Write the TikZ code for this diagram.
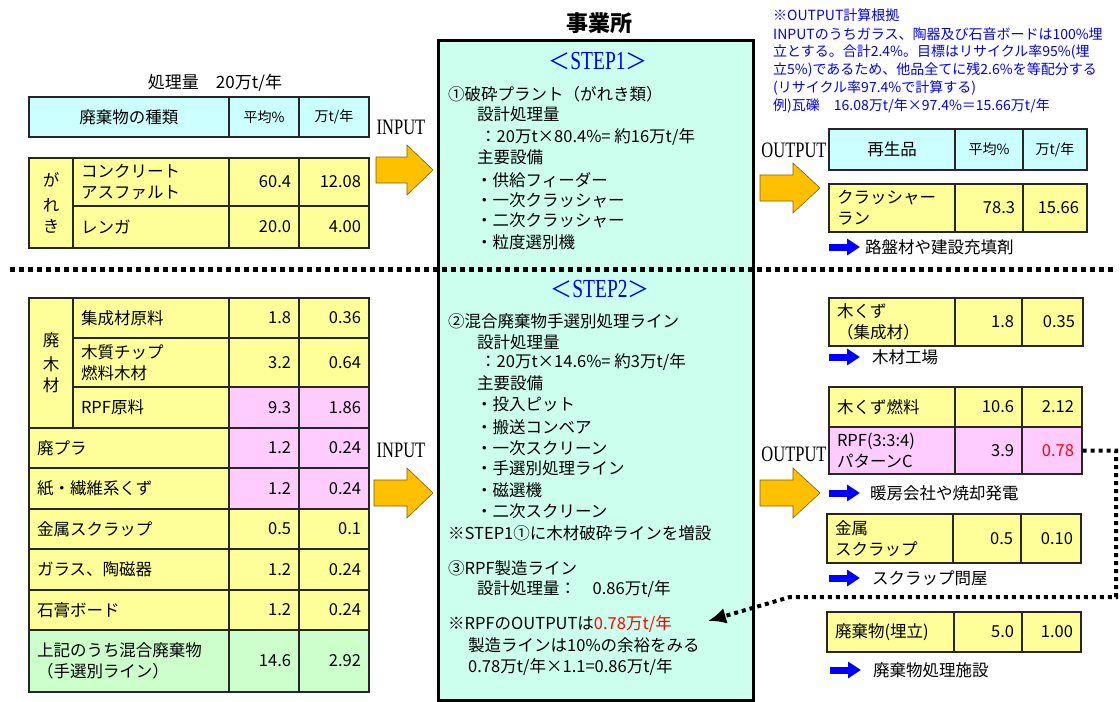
\documentclass[tikz,border=0pt]{standalone}
\usepackage{fontspec}
\setmainfont{Noto Sans CJK JP}
\newfontfamily\latcond[FakeStretch=0.75]{Liberation Serif}
\usetikzlibrary{arrows.meta}
\definecolor{hdrc}{HTML}{CCFFFF}
\definecolor{yelc}{HTML}{FFFF99}
\definecolor{pinkc}{HTML}{FFCCFF}
\definecolor{greenc}{HTML}{CCFFCC}
\definecolor{boxc}{HTML}{CCFFEE}
\definecolor{orangec}{HTML}{FFC000}
\definecolor{orangeline}{HTML}{7F6000}
\definecolor{notec}{HTML}{0000FF}
\newcommand{\tsz}{\fontsize{16.5}{21}\selectfont}
\newcommand{\ssz}{\fontsize{14}{18}\selectfont}
\newcommand{\tcell}[8]{%
  \pgfmathsetmacro\tcW{#4-#2}\pgfmathsetmacro\tcH{#5-#3}%
  \pgfmathsetmacro\tcT{#4-#2-16}%
  \pgfmathsetmacro\tcX{(#2+#4)/2}\pgfmathsetmacro\tcY{(#3+#5)/2}%
  \node[cellbox, fill=#6, minimum width=\tcW pt, minimum height=\tcH pt,
        text width=\tcT pt, align=#7] (#1) at (\tcX,\tcY) {#8};}
\newcommand{\oarrow}[6]{%
  \draw[orangearr] (#1,#4-#5) -- (#2,#4-#5) -- (#2,#4-#6) -- (#3,#4)
    -- (#2,#4+#6) -- (#2,#4+#5) -- (#1,#4+#5) -- cycle;}
\begin{document}
\begin{tikzpicture}[x=1pt,y=-1pt,
  cellbox/.style={draw=black!85, line width=1.3pt, inner xsep=8pt, inner ysep=0pt, font=\tsz},
  jtext/.style={anchor=west, inner sep=0pt, font=\tsz},
  notetext/.style={anchor=west, inner sep=0pt, font=\fontsize{14}{17}\selectfont, text=notec},
  latlabel/.style={inner sep=0pt, font=\latcond\fontsize{22}{24}\selectfont},
  orangearr/.style={fill=orangec, draw=orangeline, line width=0.6pt},
  bluearr/.style={draw=blue, line width=7pt, -{Triangle[length=13pt,width=16pt]}},
  sepline/.style={line width=5pt, dash pattern=on 5pt off 4pt},
  dotarrow/.style={line width=4pt, dash pattern=on 4pt off 4pt, -{Latex[length=18pt,width=16pt]}},
  steptitle/.style={inner sep=0pt, text=blue}
]
\useasboundingbox (0,0) rectangle (1120,702);
\fill[white] (0,0) rectangle (1120,702);

% ---------- center box ----------
\node[draw=black, line width=3pt, fill=boxc, minimum width=315pt, minimum height=660pt, inner sep=0pt] (office) at (595.5,370) {};
\node[inner sep=0pt, font=\bfseries\fontsize{22}{24}\selectfont] (officetitle) at (599,23) {事業所};

\node[steptitle] (step1) at (598,61) {{\fontsize{22}{24}\selectfont ＜}{\latcond\fontsize{26}{28}\selectfont STEP1}{\fontsize{22}{24}\selectfont ＞}};
\node[jtext] (s1a) at (448,94) {①破砕プラント（がれき類）};
\node[jtext] (s1b) at (477,114) {設計処理量};
\node[jtext] (s1c) at (480,137) {：20万t×80.4\%= 約16万t/年};
\node[jtext] (s1d) at (477,157) {主要設備};
\node[jtext] (s1e) at (476,180) {・供給フィーダー};
\node[jtext] (s1f) at (476,200) {・一次クラッシャー};
\node[jtext] (s1g) at (476,220) {・二次クラッシャー};
\node[jtext] (s1h) at (476,242) {・粒度選別機};

\node[steptitle] (step2) at (600,289) {{\fontsize{22}{24}\selectfont ＜}{\latcond\fontsize{26}{28}\selectfont STEP2}{\fontsize{22}{24}\selectfont ＞}};
\node[jtext] (s2a) at (448,321) {②混合廃棄物手選別処理ライン};
\node[jtext] (s2b) at (477,342) {設計処理量};
\node[jtext] (s2c) at (480,362) {：20万t×14.6\%= 約3万t/年};
\node[jtext] (s2d) at (477,383) {主要設備};
\node[jtext] (s2e) at (476,404) {・投入ピット};
\node[jtext] (s2f) at (476,427) {・搬送コンベア};
\node[jtext] (s2g) at (476,448) {・一次スクリーン};
\node[jtext] (s2h) at (476,468) {・手選別処理ライン};
\node[jtext] (s2i) at (476,490) {・磁選機};
\node[jtext] (s2j) at (476,511) {・二次スクリーン};
\node[jtext] (s2k) at (448,533) {※STEP1①に木材破砕ラインを増設};
\node[jtext] (s3a) at (448,568) {③RPF製造ライン};
\node[jtext] (s3b) at (477,589) {設計処理量：　0.86万t/年};
\node[jtext] (s3c) at (448,624) {※RPFのOUTPUTは\textcolor{red}{0.78万t/年}};
\node[jtext] (s3d) at (468,645) {製造ラインは10\%の余裕をみる};
\node[jtext] (s3e) at (468,667) {0.78万t/年×1.1=0.86万t/年};
\coordinate (dtip) at (708,621);

% ---------- left top ----------
\node[inner sep=0pt, font=\fontsize{17}{20}\selectfont] (amount) at (215,83) {処理量　20万t/年};
\tcell{lh1}{29}{97}{229}{137}{hdrc}{center}{廃棄物の種類}
\tcell{lh2}{229}{97}{299}{137}{hdrc}{center}{\ssz 平均\%}
\tcell{lh3}{299}{97}{369}{137}{hdrc}{center}{\ssz 万t/年}

\tcell{g0}{29}{158}{73}{248}{yelc}{center}{\fontsize{16.5}{25}\selectfont が\\れ\\き}
\tcell{g1n}{73}{158}{229}{206}{yelc}{left}{\fontsize{16.5}{23}\selectfont コンクリート\\アスファルト}
\tcell{g1a}{229}{158}{299}{206}{yelc}{right}{60.4}
\tcell{g1b}{299}{158}{369}{206}{yelc}{right}{12.08}
\tcell{g2n}{73}{206}{229}{248}{yelc}{left}{レンガ}
\tcell{g2a}{229}{206}{299}{248}{yelc}{right}{20.0}
\tcell{g2b}{299}{206}{369}{248}{yelc}{right}{4.00}

\node[latlabel] (in1) at (401,127) {INPUT};
\oarrow{376}{407}{433}{170}{13}{25}

% ---------- left bottom ----------
\tcell{w0}{29}{298}{73}{428}{yelc}{center}{\fontsize{16.5}{24}\selectfont 廃\\木\\材}
\tcell{w1n}{73}{298}{229}{338}{yelc}{left}{集成材原料}
\tcell{w1a}{229}{298}{299}{338}{yelc}{right}{1.8}
\tcell{w1b}{299}{298}{369}{338}{yelc}{right}{0.36}
\tcell{w2n}{73}{338}{229}{387}{yelc}{left}{\fontsize{16.5}{23}\selectfont 木質チップ\\燃料木材}
\tcell{w2a}{229}{338}{299}{387}{yelc}{right}{3.2}
\tcell{w2b}{299}{338}{369}{387}{yelc}{right}{0.64}
\tcell{w3n}{73}{387}{229}{428}{yelc}{left}{RPF原料}
\tcell{w3a}{229}{387}{299}{428}{pinkc}{right}{9.3}
\tcell{w3b}{299}{387}{369}{428}{pinkc}{right}{1.86}
\tcell{p1n}{29}{428}{229}{468}{yelc}{left}{廃プラ}
\tcell{p1a}{229}{428}{299}{468}{pinkc}{right}{1.2}
\tcell{p1b}{299}{428}{369}{468}{pinkc}{right}{0.24}
\tcell{p2n}{29}{468}{229}{509}{yelc}{left}{紙・繊維系くず}
\tcell{p2a}{229}{468}{299}{509}{pinkc}{right}{1.2}
\tcell{p2b}{299}{468}{369}{509}{pinkc}{right}{0.24}
\tcell{p3n}{29}{509}{229}{549}{yelc}{left}{金属スクラップ}
\tcell{p3a}{229}{509}{299}{549}{yelc}{right}{0.5}
\tcell{p3b}{299}{509}{369}{549}{yelc}{right}{0.1}
\tcell{p4n}{29}{549}{229}{590}{yelc}{left}{ガラス、陶磁器}
\tcell{p4a}{229}{549}{299}{590}{yelc}{right}{1.2}
\tcell{p4b}{299}{549}{369}{590}{yelc}{right}{0.24}
\tcell{p5n}{29}{590}{229}{630}{yelc}{left}{石膏ボード}
\tcell{p5a}{229}{590}{299}{630}{yelc}{right}{1.2}
\tcell{p5b}{299}{590}{369}{630}{yelc}{right}{0.24}
\tcell{p6n}{29}{630}{229}{692}{greenc}{left}{\fontsize{16.5}{25}\selectfont 上記のうち混合廃棄物\\（手選別ライン）}
\tcell{p6a}{229}{630}{299}{692}{greenc}{right}{14.6}
\tcell{p6b}{299}{630}{369}{692}{greenc}{right}{2.92}

\node[latlabel] (in2) at (401,450) {INPUT};
\oarrow{374}{407}{433}{493}{13}{25}

% ---------- right top ----------
\node[notetext] (n1) at (773,15) {※OUTPUT計算根拠};
\node[notetext] (n2) at (773,34) {INPUTのうちガラス、陶器及び石音ボードは100\%埋};
\node[notetext] (n3) at (773,52) {立とする。合計2.4\%。目標はリサイクル率95\%(埋};
\node[notetext] (n4) at (773,70) {立5\%)であるため、他品全てに残2.6\%を等配分する};
\node[notetext] (n5) at (773,88) {(リサイクル率97.4\%で計算する)};
\node[notetext] (n6) at (773,106) {例)瓦礫　16.08万t/年×97.4\%＝15.66万t/年};

\node[latlabel] (out1) at (794,150) {OUTPUT};
\oarrow{760}{793}{820}{188}{13}{25}
\tcell{rh1}{829}{129}{955}{170}{hdrc}{center}{再生品}
\tcell{rh2}{955}{129}{1023}{170}{hdrc}{center}{\ssz 平均\%}
\tcell{rh3}{1023}{129}{1087}{170}{hdrc}{center}{\ssz 万t/年}
\tcell{rc1}{829}{184}{955}{232}{yelc}{left}{\fontsize{16.5}{23}\selectfont クラッシャー\\ラン}
\tcell{rc2}{955}{184}{1023}{232}{yelc}{right}{78.3}
\tcell{rc3}{1023}{184}{1087}{232}{yelc}{right}{15.66}
\coordinate (ba1) at (829,247);
\draw[bluearr] (ba1) -- ++(31,0);
\node[jtext] (bt1) at (865,247) {路盤材や建設充填剤};

% ---------- right bottom ----------
\tcell{rw1}{829}{298}{955}{346}{yelc}{left}{\fontsize{16.5}{23}\selectfont 木くず\\（集成材）}
\tcell{rw2}{955}{298}{1022}{346}{yelc}{right}{1.8}
\tcell{rw3}{1022}{298}{1083}{346}{yelc}{right}{0.35}
\coordinate (ba2) at (829,357);
\draw[bluearr] (ba2) -- ++(31,0);
\node[jtext] (bt2) at (872,357) {木材工場};

\tcell{rf1}{829}{387}{955}{427}{yelc}{left}{木くず燃料}
\tcell{rf2}{955}{387}{1022}{427}{yelc}{right}{10.6}
\tcell{rf3}{1022}{387}{1082}{427}{yelc}{right}{2.12}
\tcell{rr1}{829}{427}{955}{474}{pinkc}{left}{\fontsize{16.5}{23}\selectfont RPF(3:3:4)\\パターンC}
\tcell{rr2}{955}{427}{1022}{474}{pinkc}{right}{3.9}
\tcell{rr3}{1022}{427}{1082}{474}{pinkc}{right}{\textcolor{red}{0.78}}
\node[latlabel] (out2) at (794,454) {OUTPUT};
\oarrow{760}{793}{820}{493}{13}{25}
\coordinate (ba3) at (829,493);
\draw[bluearr] (ba3) -- ++(31,0);
\node[jtext] (bt3) at (870,493) {暖房会社や焼却発電};

\tcell{rm1}{827}{514}{953}{563}{yelc}{left}{\fontsize{16.5}{23}\selectfont 金属\\スクラップ}
\tcell{rm2}{953}{514}{1021}{563}{yelc}{right}{0.5}
\tcell{rm3}{1021}{514}{1081}{563}{yelc}{right}{0.10}
\coordinate (ba4) at (829,578);
\draw[bluearr] (ba4) -- ++(31,0);
\node[jtext] (bt4) at (872,578) {スクラップ問屋};

\tcell{rl1}{827}{612}{954}{652}{yelc}{left}{廃棄物(埋立)}
\tcell{rl2}{954}{612}{1022}{652}{yelc}{right}{5.0}
\tcell{rl3}{1022}{612}{1081}{652}{yelc}{right}{1.00}
\coordinate (ba5) at (830,670);
\draw[bluearr] (ba5) -- ++(31,0);
\node[jtext] (bt5) at (873,670) {廃棄物処理施設};

% ---------- separator and dotted arrow ----------
\coordinate (sepL) at (10,269);
\coordinate (sepR) at (1113,269);
\draw[sepline] (sepL) -- (sepR);
\coordinate (d1) at (1116,597);
\coordinate (d2) at (790,597);
\draw[dotarrow] (rr3.east) -| (d1) -- (d2) -- (dtip);
\end{tikzpicture}
\end{document}
